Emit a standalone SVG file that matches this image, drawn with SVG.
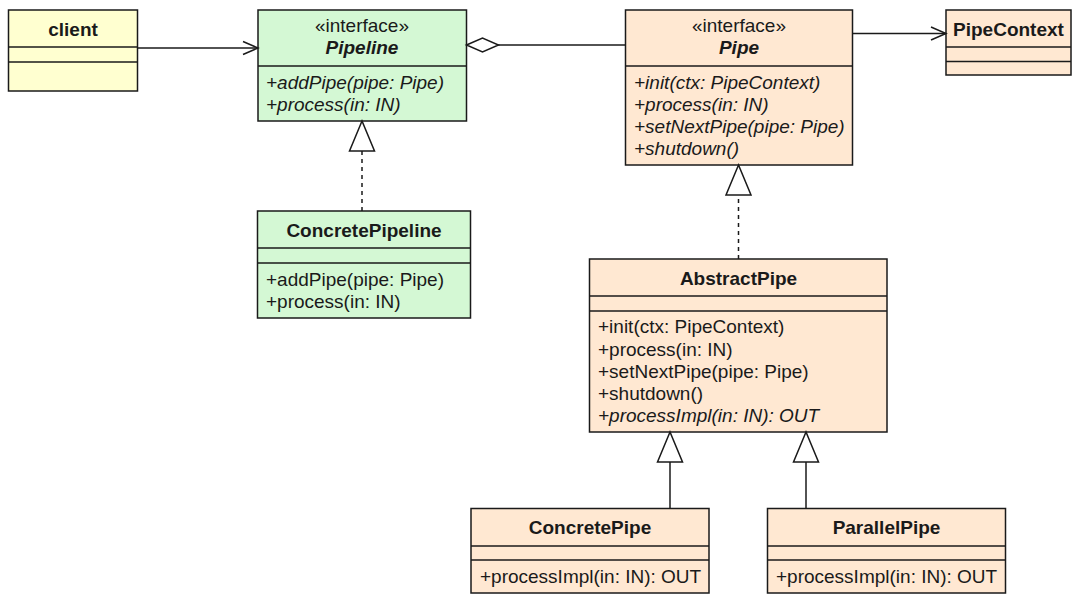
<svg xmlns="http://www.w3.org/2000/svg" width="1080" height="603" viewBox="0 0 1080 603">
<style>
.box{stroke:#1a1a1a;stroke-width:1.5}
.y{fill:#ffffd0}
.g{fill:#d4f8d4}
.o{fill:#ffe8d2}
.div{stroke:#1a1a1a;stroke-width:1.5}
text{font-family:"Liberation Sans",Arial,sans-serif;font-size:19px;fill:#1a1a1a}
.n{font-weight:bold;text-anchor:middle}
.ni{font-weight:bold;font-style:italic;text-anchor:middle}
.st{text-anchor:middle}
.it{font-style:italic}
.c{stroke:#1a1a1a;stroke-width:1.5;fill:none}
.dash{stroke-dasharray:4 4}
</style>
<defs>
<marker id="open" markerUnits="userSpaceOnUse" viewBox="-17 -9 19 18" markerWidth="19" markerHeight="18" refX="0" refY="0" orient="auto" overflow="visible">
<path d="M-15,-6.5 L0,0 L-15,6.5" fill="none" stroke="#1a1a1a" stroke-width="1.5"/>
</marker>
<marker id="tri" markerUnits="userSpaceOnUse" viewBox="-32 -14 34 28" markerWidth="34" markerHeight="28" refX="0" refY="0" orient="auto" overflow="visible">
<path d="M0,0 L-30,-12.5 L-30,12.5 Z" fill="#ffffff" stroke="#1a1a1a" stroke-width="1.5" stroke-dasharray="none"/>
</marker>
<marker id="dia" markerUnits="userSpaceOnUse" viewBox="-2 -9 36 18" markerWidth="36" markerHeight="18" refX="0" refY="0" orient="auto" overflow="visible">
<path d="M0,0 L16,-7 L32,0 L16,7 Z" fill="#ffffff" stroke="#1a1a1a" stroke-width="1.5"/>
</marker>
</defs>
<rect width="1080" height="603" fill="#ffffff"/>

<g id="client">
<rect class="box y" x="8.5" y="10" width="129" height="81"/>
<line class="div" x1="8.5" y1="47" x2="137.5" y2="47"/>
<line class="div" x1="8.5" y1="62" x2="137.5" y2="62"/>
<text class="n" x="73" y="35.5">client</text>
</g>

<g id="Pipeline">
<rect class="box g" x="258" y="10" width="208.5" height="111"/>
<line class="div" x1="258" y1="66" x2="466.5" y2="66"/>
<text class="st" x="362" y="32">«interface»</text>
<text class="ni" x="362" y="54">Pipeline</text>
<text class="it" x="266" y="89">+addPipe(pipe: Pipe)</text>
<text class="it" x="266" y="111">+process(in: IN)</text>
</g>

<g id="ConcretePipeline">
<rect class="box g" x="257.5" y="211" width="213" height="107"/>
<line class="div" x1="257.5" y1="248" x2="470.5" y2="248"/>
<line class="div" x1="257.5" y1="263" x2="470.5" y2="263"/>
<text class="n" x="364" y="237">ConcretePipeline</text>
<text x="266" y="286">+addPipe(pipe: Pipe)</text>
<text x="266" y="308">+process(in: IN)</text>
</g>

<g id="Pipe">
<rect class="box o" x="625.5" y="10" width="227" height="155"/>
<line class="div" x1="625.5" y1="66" x2="852.5" y2="66"/>
<text class="st" x="739" y="32">«interface»</text>
<text class="ni" x="739" y="54">Pipe</text>
<text class="it" x="634" y="89">+init(ctx: PipeContext)</text>
<text class="it" x="634" y="111">+process(in: IN)</text>
<text class="it" x="634" y="133">+setNextPipe(pipe: Pipe)</text>
<text class="it" x="634" y="155">+shutdown()</text>
</g>

<g id="PipeContext">
<rect class="box o" x="946" y="10" width="125" height="65"/>
<line class="div" x1="946" y1="47" x2="1071" y2="47"/>
<line class="div" x1="946" y1="61.5" x2="1071" y2="61.5"/>
<text class="n" x="1008.5" y="35.5">PipeContext</text>
</g>

<g id="AbstractPipe">
<rect class="box o" x="589.5" y="259" width="297.5" height="173"/>
<line class="div" x1="589.5" y1="296" x2="887" y2="296"/>
<line class="div" x1="589.5" y1="311" x2="887" y2="311"/>
<text class="n" x="738.5" y="285">AbstractPipe</text>
<text x="598" y="333">+init(ctx: PipeContext)</text>
<text x="598" y="355.5">+process(in: IN)</text>
<text x="598" y="377.5">+setNextPipe(pipe: Pipe)</text>
<text x="598" y="399.5">+shutdown()</text>
<text class="it" x="598" y="421.5">+processImpl(in: IN): OUT</text>
</g>

<g id="ConcretePipe">
<rect class="box o" x="471" y="508.5" width="238" height="84.5"/>
<line class="div" x1="471" y1="546" x2="709" y2="546"/>
<line class="div" x1="471" y1="560" x2="709" y2="560"/>
<text class="n" x="590" y="534">ConcretePipe</text>
<text x="480" y="583">+processImpl(in: IN): OUT</text>
</g>

<g id="ParallelPipe">
<rect class="box o" x="767.5" y="508.5" width="238" height="84.5"/>
<line class="div" x1="767.5" y1="546" x2="1005.5" y2="546"/>
<line class="div" x1="767.5" y1="560" x2="1005.5" y2="560"/>
<text class="n" x="886.5" y="534">ParallelPipe</text>
<text x="776" y="583">+processImpl(in: IN): OUT</text>
</g>

<g id="connectors">
<line class="c" x1="137.5" y1="48" x2="258" y2="48" marker-end="url(#open)"/>
<line class="c" x1="852.5" y1="33.5" x2="946" y2="33.5" marker-end="url(#open)"/>
<line class="c" x1="466.5" y1="45" x2="625.5" y2="45" marker-start="url(#dia)"/>
<line class="c dash" x1="362" y1="211" x2="362" y2="121" marker-end="url(#tri)"/>
<line class="c dash" x1="738.5" y1="259" x2="738.5" y2="165" marker-end="url(#tri)"/>
<line class="c" x1="670" y1="508.5" x2="670" y2="432" marker-end="url(#tri)"/>
<line class="c" x1="806" y1="508.5" x2="806" y2="432" marker-end="url(#tri)"/>
</g>
</svg>
